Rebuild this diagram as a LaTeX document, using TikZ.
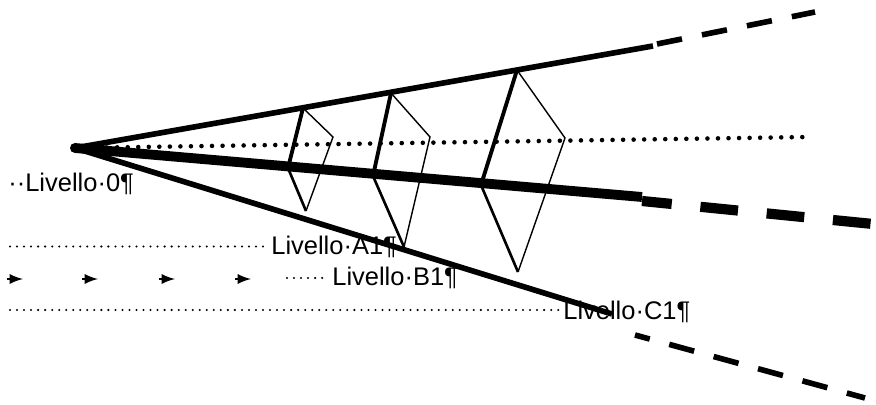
\documentclass[tikz,border=0pt]{standalone}
\usepackage{fontspec}
\setmainfont{Liberation Sans}
\usetikzlibrary{%
  arrows,%
  calc,%
  positioning% wg. " of "
}

\begin{document}
\begin{tikzpicture}[x=0.02cm,y=-0.02cm]
       \tikzset{ray/.style={line width=3.2pt}}
       \tikzset{axis/.style={line width=5.6pt}}
       \tikzset{axisdots/.style={line width=2.6pt, line cap=round, dash pattern=on 0pt off 6pt}}

       \tikzset{spacedots/.style={line width=1.3pt, line cap=round, dash pattern=on 0pt off 4pt}}

       \tikzset{level/.style={inner sep=0pt, anchor=base west, font=\fontsize{14.5}{17}\selectfont}}

       \tikzset{edgebold/.style={line width=2.2pt, line join=round}}
       \tikzset{edgemid/.style={line width=1.5pt}}
       \tikzset{edgethin/.style={line width=0.8pt}}

       \useasboundingbox (0,0) rectangle (876,405);

       % the fan
       \coordinate (apex) at (75,148);
       \coordinate (topend) at (653,46);
       \coordinate (midend) at (642,197);
       \coordinate (lowend) at (612,314);
       \coordinate (dotend) at (808,137);

       \coordinate (topdash1) at (657,44);
       \coordinate (topdash2) at (815,12);
       \coordinate (middash1) at (642,201);
       \coordinate (middash2) at (873,224);
       \coordinate (lowdash1) at (635,335);
       \coordinate (lowdash2) at (865,398);

       % levels
       \node[level] (liv0) at (8,192) {··Livello·0¶};
       \node[level] (livA) at (271,255) {Livello·A1¶};
       \node[level] (livB) at (332,286) {Livello·B1¶};
       \node[level] (livC) at (563,319) {Livello·C1¶};

       \coordinate (dotsA) at (10,246.5);
       \coordinate (dotsB) at (287,278);
       \coordinate (dotsC) at (10,310);

       \draw[spacedots] (dotsA) -- ($(dotsA -| livA.west)+(-3,0)$);
       \draw[spacedots] (dotsB) -- ($(dotsB -| livB.west)+(-3,0)$);
       \draw[spacedots] (dotsC) -- ($(dotsC -| livC.west)+(-3,0)$);

       \foreach \x in {7,82,159,235}
         \draw[-latex, line width=1.6pt] (\x,279) -- ++(16,0);

       \draw[axisdots] (apex) -- (dotend);
       \draw[ray] (apex) -- (topend);
       \draw[axis] (apex) -- (midend);
       \draw[ray] (apex) -- (lowend);
       \fill (apex) circle (5);

       \draw[ray, dash pattern=on 14.5pt off 11.6pt] (topdash1) -- (topdash2);
       \draw[line width=5.8pt, dash pattern=on 21.5pt off 16.4pt, dash phase=4.5pt] (middash1) -- (middash2);
       \draw[ray, dash pattern=on 14.7pt off 11.5pt, dash phase=6pt] (lowdash1) -- (lowdash2);

       % the three rhombi
       \foreach \tx/\ty/\rx/\ry/\bx/\by/\lx/\ly/\n in {%
           303/108/333/137/306/211/288/168/1,%
           391/93/430/137/404/247/373/176/2,%
           517/70/565/138/518/272/481/185/3}{
         \coordinate (t\n) at (\tx,\ty);
         \coordinate (r\n) at (\rx,\ry);
         \coordinate (b\n) at (\bx,\by);
         \coordinate (l\n) at (\lx,\ly);
         \draw[edgebold] (t\n) -- (l\n);
         \draw[edgemid] (l\n) -- (b\n);
         \draw[edgethin] (t\n) -- (r\n) -- (b\n);
       }

   \end{tikzpicture}
\end{document}
